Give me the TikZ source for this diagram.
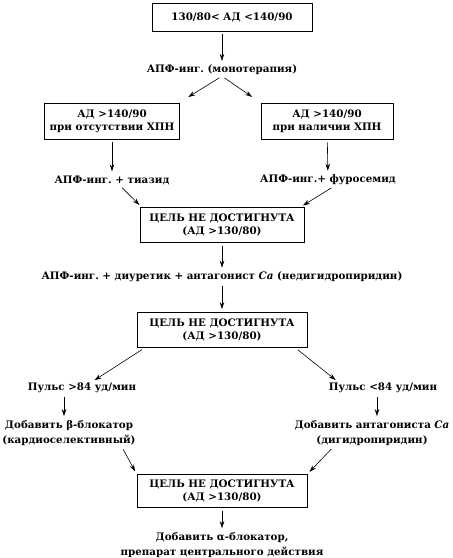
\documentclass[tikz,border=0pt]{standalone}
\usepackage{fontspec}
\setmainfont{DejaVu Serif}
\frenchspacing
\usetikzlibrary{positioning,arrows.meta}
\tikzset{
  node distance=20pt and 10pt,
  box/.style={draw, line width=0.8pt, font=\bfseries\fontsize{10.3}{13}\selectfont,
              align=center, inner xsep=5pt, inner ysep=3pt, minimum height=28pt},
  txt/.style={font=\bfseries\fontsize{10.3}{15}\selectfont, align=center, inner sep=1pt},
  flow/.style={-{Stealth[length=7pt,width=4.5pt]}, line width=0.6pt,
               shorten <=3pt, shorten >=3pt},
}

\begin{document}
\begin{tikzpicture}[x=1pt,y=-1pt]
    \useasboundingbox (0,0) rectangle (453,558);

    \node[box, minimum width=160pt] (start) at (232,17) {130/80< АД <140/90};
    \node[txt] (mono) at (222,70) {АПФ-инг. (монотерапия)};

    \node[box, minimum width=132pt, minimum height=36pt] (noxpn) at (112,121) {АД >140/90\\при отсутствии ХПН};
    \node[box, minimum width=132pt, minimum height=36pt] (xpn) at (327,121) {АД >140/90\\при наличии ХПН};
    \node[txt] (tiaz) at (112,180) {АПФ-инг. + тиазид};
    \node[txt] (furo) at (328,180) {АПФ-инг.+ фуросемид};

    \node[box, minimum width=164pt, minimum height=35pt] (goal1) at (222,225) {ЦЕЛЬ НЕ ДОСТИГНУТА\\(АД >130/80)};
    \node[txt] (combo) at (222,277) {АПФ-инг. + диуретик + антагонист \textit{Ca} (недигидропиридин)};
    \node[box, minimum width=170pt, minimum height=35pt] (goal2) at (222,330) {ЦЕЛЬ НЕ ДОСТИГНУТА\\(АД >130/80)};

    \node[txt] (hipuls) at (82,388) {Пульс >84 уд/мин};
    \node[txt] (lopuls) at (383,388) {Пульс <84 уд/мин};
    \node[txt] (beta) at (69,433) {Добавить β-блокатор\\(кардиоселективный)};
    \node[txt] (antca) at (372,433) {Добавить антагониста \textit{Ca}\\(дигидропиридин)};

    \node[box, minimum width=170pt, minimum height=33pt] (goal3) at (222,491) {ЦЕЛЬ НЕ ДОСТИГНУТА\\(АД >130/80)};
    \node[txt] (alpha) at (222,545) {Добавить α-блокатор,\\препарат центрального действия};

    % arrows
    \draw[flow] (mono |- start.south) -- (mono);
    \draw[flow] (mono.south) -- ([shift={(6,-4)}]noxpn.north east);
    \draw[flow] (mono.south) -- ([shift={(-6,-4)}]xpn.north west);
    \draw[flow] (noxpn) -- (tiaz);
    \draw[flow] (xpn) -- (furo);
    \draw[flow] ([shift={(8,0)}]tiaz.south) -- ([shift={(2,0)}]goal1.north west);
    \draw[flow] ([shift={(6,0)}]furo.south) -- ([shift={(-4,0)}]goal1.north east);
    \draw[flow] (goal1) -- (combo);
    \draw[flow] (combo) -- (goal2);
    \draw[flow] ([shift={(8,0)}]goal2.south west) -- ([shift={(10,0)}]hipuls.north);
    \draw[flow] ([shift={(-12,0)}]goal2.south east) -- ([shift={(-45,0)}]lopuls.north);
    \draw[flow] ([shift={(-5,0)}]beta |- hipuls.south) -- ([shift={(-5,0)}]beta.north);
    \draw[flow] ([shift={(5,0)}]antca |- lopuls.south) -- ([shift={(5,0)}]antca.north);
    \draw[flow] ([shift={(-15,0)}]beta.south east) -- (goal3.north west);
    \draw[flow] ([shift={(40,0)}]antca.south west) -- (goal3.north east);
    \draw[flow] (goal3) -- (alpha);
\end{tikzpicture}
\end{document}
